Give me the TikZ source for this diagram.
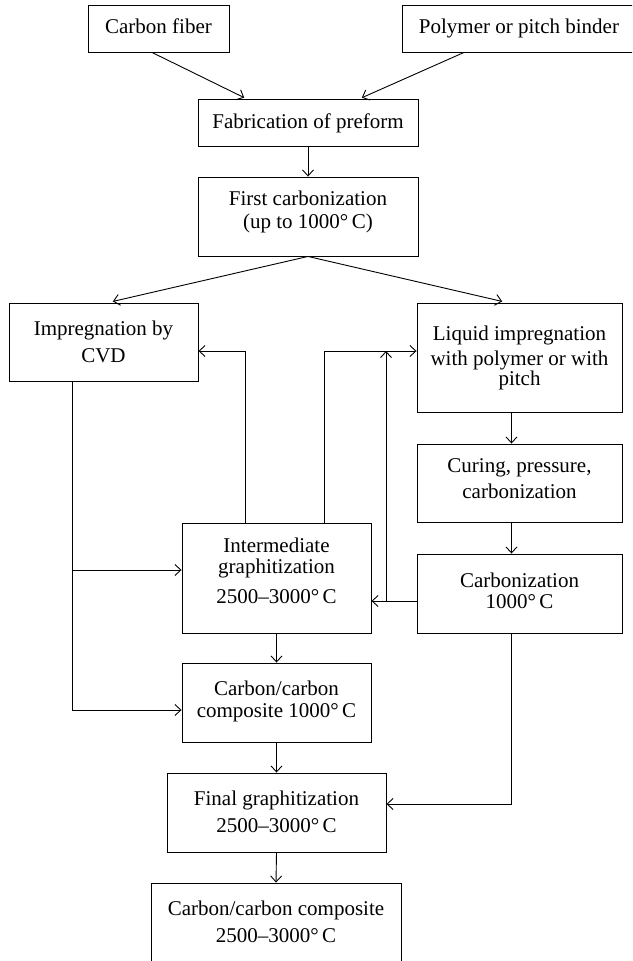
\documentclass[tikz,border=0pt]{standalone}
\usepackage{fontspec}
\setmainfont{Liberation Serif}
\usetikzlibrary{arrows.meta}
\begin{document}
\begin{tikzpicture}[x=1pt,y=-1pt,
  box/.style={draw, rectangle, inner sep=0pt, line width=0.9pt},
  txt/.style={font=\fontsize{21}{24}\selectfont, align=center, inner sep=0pt, anchor=base},
  arr/.style={-{Straight Barb[length=6pt,width=11pt]}, line width=0.9pt}]
\useasboundingbox (0,0) rectangle (632,961);
\clip (0,0) rectangle (632,961);
\fill[white] (0,0) rectangle (632,961);

% boxes
\node[box, minimum width=141pt, minimum height=47pt] (cf) at (158.5,28.5) {};
\node[box, minimum width=243pt, minimum height=47pt] (pb) at (523.5,28.5) {};
\node[box, minimum width=220pt, minimum height=47pt] (fab) at (308,122.5) {};
\node[box, minimum width=220pt, minimum height=79pt] (fc) at (308,216.5) {};
\node[box, minimum width=189pt, minimum height=78pt] (cvd) at (103.5,342) {};
\node[box, minimum width=205pt, minimum height=109pt] (liq) at (519.5,357.5) {};
\node[box, minimum width=205pt, minimum height=78pt] (cur) at (519.5,483) {};
\node[box, minimum width=205pt, minimum height=79pt] (carb) at (519.5,593.5) {};
\node[box, minimum width=189pt, minimum height=110pt] (inter) at (276.5,578) {};
\node[box, minimum width=189pt, minimum height=79pt] (cc1) at (276.5,702.5) {};
\node[box, minimum width=219pt, minimum height=79pt] (fin) at (276.5,812.5) {};
\node[box, minimum width=250pt, minimum height=102pt] (ccf) at (276,934) {};

% texts (anchor = baseline of the last line)
\node[txt] (tcf) at (158.5,33) {Carbon fiber};
\node[txt] (tpb) at (519,33) {Polymer or pitch binder};
\node[txt] (tfab) at (308,128) {Fabrication of preform};
\node[txt] (tfc) at (308,228) {First carbonization\\[-1pt](up to 1000°\,C)};
\node[txt] (tcvd) at (103.5,362) {Impregnation by\\[3pt]CVD};
\node[txt] (tliq) at (519.5,385) {Liquid impregnation\\[1pt]with polymer or with\\[-4pt]pitch};
\node[txt] (tcur) at (519.5,498) {Curing, pressure,\\[2pt]carbonization};
\node[txt] (tcarb) at (519.5,608) {Carbonization\\[-3pt]1000°\,C};
\node[txt] (tinter) at (276.5,603) {Intermediate\\[-3pt]graphitization\\[6pt]2500--3000°\,C};
\node[txt] (tcc1) at (276.5,717) {Carbon/carbon\\[-2pt]composite 1000°\,C};
\node[txt] (tfin) at (276.5,832) {Final graphitization\\[3pt]2500--3000°\,C};
\node[txt] (tccf) at (276,942) {Carbon/carbon composite\\[3pt]2500--3000°\,C};

% junction coordinates
\coordinate (j1) at (245,351);
\coordinate (j2) at (324,351);
\coordinate (j3) at (386,601);
\coordinate (j4) at (72,570);
\coordinate (j5) at (72,710);
\coordinate (j6) at (511.5,804);
\coordinate (sa) at (152,52);
\coordinate (sb) at (464,52);
\coordinate (ta) at (246,99);
\coordinate (tb) at (360,99);
\coordinate (tl) at (108,303);
\coordinate (tr) at (507,303);

% connectors
\draw[arr, shorten >=2pt] (cf.south -| sa) -- (fab.north -| ta);
\draw[arr, shorten >=2pt] (pb.south -| sb) -- (fab.north -| tb);
\draw[arr] (fab.south) -- (fc.north);
\draw[arr, shorten >=5pt] (fc.south) -- (cvd.north -| tl);
\draw[arr, shorten >=5pt] (fc.south) -- (liq.north -| tr);
\draw[arr] (inter.north -| j1) |- (cvd.east |- j1);
\draw[arr] (inter.north -| j2) |- (liq.west |- j2);
\draw[arr] (carb.west |- j3) -- (inter.east |- j3);
\draw[arr] (j3) -- (j3 |- j2);
\draw[arr] (cvd.south -| j4) |- (cc1.west |- j5);
\draw[arr] (j4) -- (inter.west |- j4);
\draw[arr] (liq.south -| j6) -- (cur.north -| j6);
\draw[arr] (cur.south -| j6) -- (carb.north -| j6);
\draw[arr] (carb.south -| j6) |- (fin.east |- j6);
\draw[arr] (inter.south) -- (cc1.north);
\draw[arr] (cc1.south) -- (fin.north);
\draw[arr] (fin.south) -- (ccf.north);
\end{tikzpicture}
\end{document}
